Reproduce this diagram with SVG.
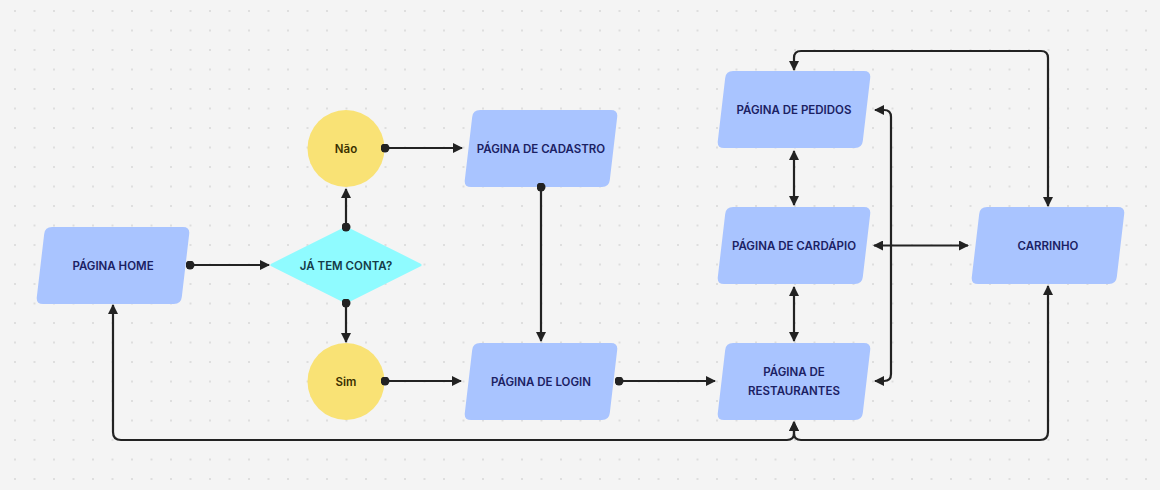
<svg xmlns="http://www.w3.org/2000/svg" width="1160" height="490" viewBox="0 0 1160 490">
<style>
.bg{fill:#f4f4f4}
.para{fill:#a9c4ff}
.circ{fill:#f9e275}
.dia{fill:#8ffbff;stroke:#8ffbff;stroke-width:3;stroke-linejoin:round}
.lbl{font-family:Inter,"Noto Sans","Liberation Sans",sans-serif;font-size:11.5px;font-weight:600;text-anchor:middle;dominant-baseline:central;fill:#1b2163}
.lbl-y{fill:#3b3000}
.lbl-c{fill:#143b48}
.con{fill:none;stroke:#222;stroke-width:2.2}
.a2{marker-start:url(#arr);marker-end:url(#arr)}
.d1{marker-start:url(#dot);marker-end:url(#arr)}
</style>
<defs>
<pattern id="grid" x="5.25" y="1.25" width="19.5" height="19.5" patternUnits="userSpaceOnUse">
<circle cx="9.75" cy="9.75" r="1" fill="#d6d6d6"/>
</pattern>
<path id="para" d="M16,0 H147 Q154,0 153.19,6.95 L145.81,70.05 Q145,77 138,77 H7 Q0,77 0.81,70.05 L8.19,6.95 Q9,0 16,0 Z"/>
<marker id="arr" viewBox="0 0 10 10" refX="9" refY="5" markerWidth="10" markerHeight="10" markerUnits="userSpaceOnUse" orient="auto-start-reverse">
<path d="M0,0 L10,5 L0,10 Z" fill="#222"/>
</marker>
<marker id="dot" viewBox="0 0 10 10" refX="5" refY="5" markerWidth="9" markerHeight="9" markerUnits="userSpaceOnUse" orient="auto">
<circle cx="5" cy="5" r="5" fill="#222"/>
</marker>
</defs>
<rect class="bg" x="0" y="0" width="1160" height="490"/>
<rect x="0" y="0" width="1160" height="490" fill="url(#grid)"/>

<g id="home">
<use href="#para" class="para" x="36" y="227"/>
<text class="lbl" x="113" y="265.5">PÁGINA HOME</text>
</g>
<g id="decisao">
<polygon class="dia" points="272,265 346,228 420,265 346,302"/>
<text class="lbl lbl-c" x="346" y="265.5">JÁ TEM CONTA?</text>
</g>
<g id="nao">
<circle class="circ" cx="346" cy="148.5" r="38.5"/>
<text class="lbl lbl-y" x="346" y="149">Não</text>
</g>
<g id="sim">
<circle class="circ" cx="346" cy="381.5" r="38.5"/>
<text class="lbl lbl-y" x="346" y="382">Sim</text>
</g>
<g id="cadastro">
<use href="#para" class="para" x="464" y="110"/>
<text class="lbl" x="541" y="148.5">PÁGINA DE CADASTRO</text>
</g>
<g id="login">
<use href="#para" class="para" x="464" y="343"/>
<text class="lbl" x="541" y="381.5">PÁGINA DE LOGIN</text>
</g>
<g id="restaurantes">
<use href="#para" class="para" x="717" y="343"/>
<text class="lbl" x="794" y="372">PÁGINA DE</text>
<text class="lbl" x="794" y="390.5">RESTAURANTES</text>
</g>
<g id="pedidos">
<use href="#para" class="para" x="717" y="71"/>
<text class="lbl" x="794" y="109.5">PÁGINA DE PEDIDOS</text>
</g>
<g id="cardapio">
<use href="#para" class="para" x="717" y="207"/>
<text class="lbl" x="794" y="245.5">PÁGINA DE CARDÁPIO</text>
</g>
<g id="carrinho">
<use href="#para" class="para" x="971" y="207"/>
<text class="lbl" x="1048" y="245.5">CARRINHO</text>
</g>

<g id="connectors">
<path class="con d1" d="M190,265 H269"/>
<path class="con d1" d="M346,227 V189"/>
<path class="con d1" d="M346,303 V342"/>
<path class="con d1" d="M385,148 H462"/>
<path class="con d1" d="M541,187 V341"/>
<path class="con d1" d="M385,381 H461"/>
<path class="con d1" d="M619,381 H715"/>
<path class="con a2" d="M794,287 V341"/>
<path class="con a2" d="M794,151 V205"/>
<path class="con a2" d="M874,245.5 H968"/>
<path class="con a2" d="M875,110 H884 Q891,110 891,117 V374 Q891,381 884,381 H875"/>
<path class="con a2" d="M794,70 V58 Q794,51 801,51 H1041 Q1048,51 1048,58 V206"/>
<path class="con a2" d="M113,305 V432 Q113,440 121,440 H787 Q794,440 794,433 V422"/>
<path class="con a2" d="M1048,286 V432 Q1048,440 1040,440 H801 Q794,440 794,433 V422"/>
</g>
</svg>
